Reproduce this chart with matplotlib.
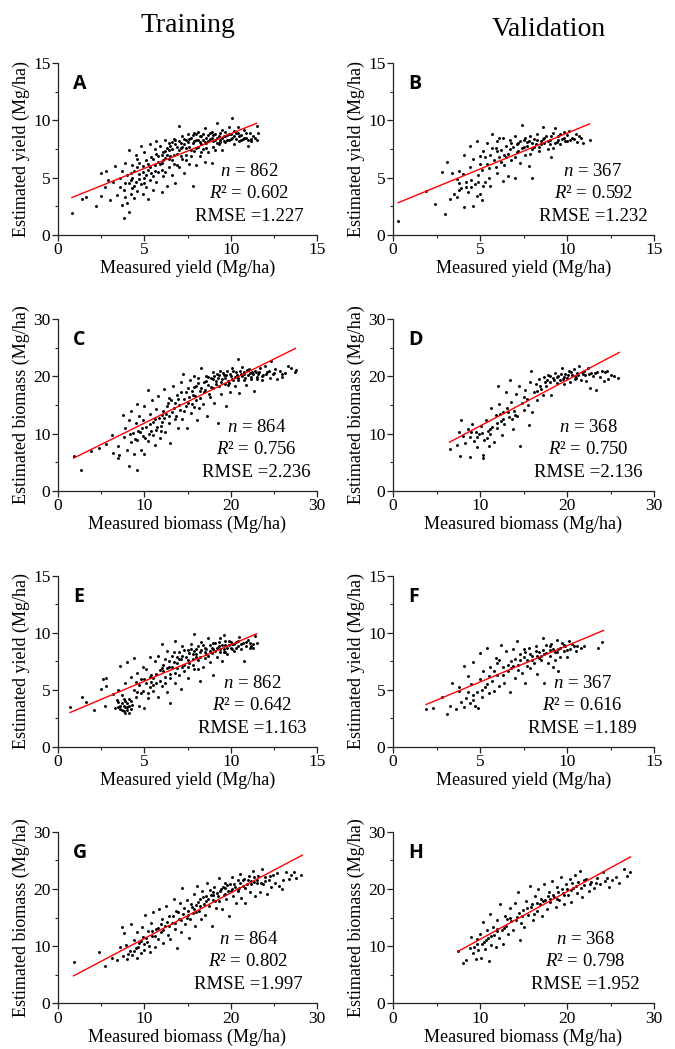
import numpy as np
import matplotlib
matplotlib.use("Agg")
import matplotlib.pyplot as plt
from matplotlib.ticker import MultipleLocator

plt.rcParams['font.family'] = ['Liberation Serif', 'DejaVu Serif']
plt.rcParams['mathtext.fontset'] = 'custom'
plt.rcParams['mathtext.it'] = 'Liberation Serif:italic'
plt.rcParams['mathtext.rm'] = 'Liberation Serif'

# ---------------- data ----------------
col_titles = ["Training", "Validation"]
panel_letters = ["A", "B", "C", "D", "E", "F", "G", "H"]
n_values = [862, 367, 864, 368, 862, 367, 864, 368]
r2_values = ["0.602", "0.592", "0.756", "0.750", "0.642", "0.616", "0.802", "0.798"]
rmse_values = ["1.227", "1.232", "2.236", "2.136", "1.163", "1.189", "1.997", "1.952"]
kinds = ["yield", "yield", "biomass", "biomass", "yield", "yield", "biomass", "biomass"]

# fitted red lines: (x0, x1), (y0, y1)
fit_x = [(0.8, 11.5), (0.3, 11.3), (1.8, 27.5), (6.5, 26.0),
         (0.7, 11.5), (1.9, 12.1), (1.8, 28.3), (7.5, 27.3)]
fit_y = [(3.25, 9.75), (2.8, 9.7), (5.7, 24.9), (8.5, 24.2),
         (3.0, 9.9), (3.7, 10.2), (4.8, 25.9), (9.1, 25.6)]

pts_A = [(0.8,1.9),(1.4,3.1),(1.6,3.3),(2.2,2.5),(2.5,5.4),(2.5,3.4),(2.7,4.2),(2.8,5.6),(2.9,4.8),(3.0,3.0),(3.2,4.6),(3.3,6.0),(3.4,3.5),
(3.6,5.0),(3.6,4.2),(3.7,2.6),(3.7,5.6),(3.8,1.5),(3.8,3.9),(3.9,4.5),(3.9,6.3),(4.0,2.8),(4.0,5.2),(4.1,2.0),(4.1,7.4),(4.2,3.6),(4.2,4.8),(4.3,6.1),(4.3,4.1),(4.4,5.6),(4.4,3.2),(4.5,7.0),(4.5,4.6),
(4.6,6.6),(4.6,3.8),(4.7,5.3),(4.8,7.8),(4.8,4.4),(4.9,6.0),(4.9,3.6),(5.0,5.0),(5.0,7.2),(5.1,4.2),(5.1,6.5),(5.2,3.1),(5.2,5.7),(5.3,7.9),(5.3,4.8),(5.4,6.8),(5.4,5.4),(5.5,3.9),
(5.6,7.5),(5.6,6.1),(5.7,4.6),(5.7,8.2),(5.8,5.5),(5.8,6.9),(5.9,7.8),(6.0,3.7),(6.0,6.3),(6.1,7.2),(6.1,5.1),(6.2,8.3),(6.2,6.7),(6.3,4.3),(6.3,7.6),(6.4,5.9),(6.4,8.0),(6.5,6.9),
(6.6,7.5),(6.6,5.2),(6.7,8.4),(6.7,6.2),(6.8,7.9),(6.8,4.5),(6.9,7.1),(7.0,9.5),(7.0,8.2),(7.0,5.9),(7.1,7.6),(7.2,6.6),(7.2,8.6),(7.3,7.9),(7.3,5.4),(7.4,8.3),(7.4,7.0),(7.5,8.8),
(7.6,7.7),(7.6,6.2),(7.7,8.5),(7.8,8.0),(7.8,4.3),(7.9,7.3),(7.9,8.9),(8.0,6.1),(8.0,8.3),(8.1,7.7),(8.1,9.0),(8.2,8.1),(8.2,6.9),(8.3,8.6),(8.4,7.5),(8.4,8.3),(8.5,9.3),(8.5,6.4),
(8.6,8.0),(8.7,8.7),(8.7,7.2),(8.8,8.4),(8.9,9.0),(8.9,6.3),(9.0,8.2),(9.0,7.7),(9.1,8.8),(9.2,9.8),(9.2,8.5),(9.3,7.9),(9.4,8.9),(9.4,8.3),(9.5,9.2),(9.5,7.4),
(9.6,8.6),(9.7,9.0),(9.7,8.1),(9.8,8.7),(9.9,9.4),(9.9,8.3),(10.0,8.8),(10.1,10.2),(10.1,8.5),(10.2,7.9),(10.2,9.1),(10.3,8.4),(10.4,8.9),(10.4,9.4),(10.5,8.2),
(10.6,8.7),(10.7,8.4),(10.8,9.2),(10.9,8.5),(11.0,8.3),(11.1,8.9),(11.2,8.4),(11.3,8.6),(11.5,9.5),(11.5,8.3),(11.6,8.9),(11.0,7.8),
(5.5,6.6),(5.9,6.2),(6.0,7.0),(6.2,7.3),(6.4,7.4),(6.5,7.8),(6.6,8.1),(6.7,7.0),(6.8,8.3),(6.9,7.7),(7.0,7.4),(7.1,8.0),(7.2,7.7),(7.3,8.4),(7.4,7.6),(7.5,8.1),(7.6,8.4),(7.7,7.4),(7.8,8.7),(7.9,8.2),
(8.0,7.6),(8.0,8.8),(8.1,8.3),(8.2,8.6),(8.3,7.9),(8.4,8.8),(8.5,8.1),(8.6,8.5),(8.7,8.2),(8.8,8.9),(8.9,8.5),(9.0,8.7),(9.1,8.3),(9.2,8.0),(9.3,8.6),(9.4,8.1),(9.5,8.5),(9.6,8.2),(9.7,8.6),(9.8,8.3),
(9.9,8.8),(10.0,8.4),(10.2,8.6),(10.3,8.9),(10.5,8.6),(10.6,8.3),(10.8,8.5),(10.9,8.9),(11.2,8.2),(11.4,8.5),
(4.2,5.4),(4.4,4.3),(4.6,5.9),(4.7,4.9),(4.9,5.5),(5.0,4.5),(5.2,6.2),(5.3,5.9),(5.5,5.1),(5.6,5.6),(5.8,6.4),(6.0,5.7),(6.2,5.5),(6.4,6.6),(6.6,6.5),(6.9,6.1),(7.1,6.9),(7.4,6.5),(7.7,6.9),(8.3,7.2),
(8.6,7.6),(9.1,7.4),(3.9,3.3),(4.1,4.5),(4.3,5.0),(4.7,6.3),(5.1,5.2),(5.7,7.1),(6.1,6.5),(6.3,7.0)]

pts_B = [(0.3,1.2),(1.9,3.8),(2.4,2.7),(2.8,5.5),(3.0,1.8),(3.1,6.4),(3.3,3.1),(3.4,5.4),(3.5,3.6),(3.7,4.9),(3.7,3.3),(3.8,4.5),(3.8,5.6),(3.9,4.1),(4.1,2.4),(4.1,7.0),(4.2,4.2),(4.3,3.7),(4.4,5.9),(4.4,7.8),
(4.5,4.8),(4.6,2.5),(4.6,6.6),(4.7,4.4),(4.8,3.4),(4.8,8.2),(4.9,5.2),(5.0,3.6),(5.0,6.9),(5.1,3.0),(5.1,5.7),(5.2,7.3),(5.3,4.6),(5.4,8.0),(5.4,6.2),(5.5,5.0),(5.6,7.0),(5.6,4.3),(5.7,8.8),(5.8,6.5),
(5.9,7.6),(6.0,5.4),(6.0,8.2),(6.1,6.8),(6.2,7.4),(6.3,4.7),(6.3,8.5),(6.4,6.1),(6.5,7.8),(6.6,5.1),(6.6,7.1),(6.7,8.3),(6.8,6.5),(6.9,7.7),(7.0,5.0),(7.0,8.6),(7.1,7.2),(7.2,8.0),(7.3,6.3),(7.4,9.6),
(7.4,7.6),(7.5,8.3),(7.6,7.0),(7.7,8.1),(7.8,6.0),(7.9,8.6),(8.0,5.0),(8.0,7.5),(8.1,8.4),(8.2,7.9),(8.3,8.8),(8.4,7.3),(8.5,8.2),(8.6,9.4),(8.7,8.0),(8.8,8.6),(8.9,7.5),(9.0,8.3),(9.1,6.8),(9.2,8.9),
(9.3,9.3),(9.4,8.1),(9.5,8.6),(9.6,7.9),(9.7,8.4),(9.8,9.0),(9.9,8.2),(10.0,8.7),(10.1,9.1),(10.2,8.3),(10.3,8.5),(10.5,8.8),(10.6,8.1),(10.8,8.5),(10.9,8.0),(11.3,8.3),(7.7,7.8),(8.6,8.4),(9.0,7.9),(6.4,7.0),
(5.3,6.8),(6.8,8.0),(7.1,7.9),(7.3,8.2),(7.5,7.7),(7.6,8.5),(7.8,8.2),(8.0,8.0),(8.1,7.7),(8.3,8.3),(8.5,7.9),(8.7,8.5),(8.9,8.2),(9.1,8.6),(9.3,8.0),(9.5,8.3),(9.6,8.8),(9.8,8.5),(10.0,8.2),(10.4,8.4),
(10.7,8.6),(6.0,7.3),(6.2,6.4),(6.5,6.8),(5.9,5.9),(5.7,7.6),(4.2,4.6),(4.5,4.2),(4.9,4.6),(5.2,4.3),(5.5,5.8),(6.7,7.5),(7.2,7.3),(7.9,7.1),(8.4,7.7),(9.2,7.6),(6.1,8.5),(5.0,6.2),(4.0,5.3),(3.8,3.9),(7.0,6.8)]

pts_C = [(1.8,6.0),(2.7,3.7),(3.8,6.9),(4.8,7.4),(5.6,8.1),(6.3,9.8),(6.4,6.6),(6.9,5.7),(7.0,7.9),(7.1,6.2),(7.5,13.3),(7.6,9.4),(7.8,11.0),(8.0,7.1),(8.2,4.4),(8.2,12.3),(8.4,8.6),(8.5,14.0),(8.7,10.1),(8.8,6.4),
(9.0,11.8),(9.1,15.1),(9.1,3.6),(9.2,8.9),(9.4,13.0),(9.5,10.3),(9.6,7.2),(9.8,12.3),(9.9,9.5),(10.0,14.8),(10.0,6.5),(10.2,11.2),(10.4,17.6),(10.4,8.7),(10.6,13.5),(10.8,10.4),(10.9,15.9),(11.0,12.0),(11.2,8.0),(11.3,14.3),
(11.5,11.1),(11.6,16.6),(11.8,9.3),(12.0,13.3),(12.1,12.1),(12.3,17.8),(12.4,10.2),(12.6,14.8),(12.8,11.8),(12.9,16.3),(13.0,8.4),(13.2,13.7),(13.3,18.4),(13.5,12.5),(13.6,15.4),(13.8,16.8),(13.9,10.9),(14.1,14.2),(14.2,19.1),(14.4,12.6),
(14.5,20.4),(14.6,16.0),(14.8,14.8),(14.9,11.0),(15.0,17.9),(15.1,15.3),(15.3,19.4),(15.4,13.6),(15.6,16.7),(15.7,20.1),(15.8,14.6),(16.0,18.3),(16.1,12.4),(16.2,19.8),(16.4,16.2),(16.5,17.4),(16.6,21.4),(16.8,15.2),(16.9,19.0),(17.0,17.6),
(17.2,20.0),(17.3,13.0),(17.4,18.5),(17.6,16.4),(17.7,19.7),(17.9,20.8),(18.0,17.9),(18.1,15.3),(18.3,19.2),(18.4,20.5),(18.5,11.9),(18.6,18.3),(18.8,21.0),(18.9,16.9),(19.0,19.6),(19.2,20.3),(19.3,18.6),(19.5,14.9),(19.6,20.9),(19.7,19.2),
(19.9,17.3),(20.0,20.1),(20.2,21.4),(20.3,19.4),(20.5,18.3),(20.6,20.8),(20.8,19.8),(20.9,23.0),(21.0,17.1),(21.2,20.4),(21.3,21.7),(21.5,19.3),(21.6,20.8),(21.8,18.5),(22.0,20.2),(22.1,21.3),(22.3,19.6),(22.5,20.7),(22.7,17.5),(22.8,21.0),
(23.0,19.9),(23.2,20.5),(23.4,21.4),(23.6,19.4),(23.8,20.2),(24.0,21.9),(24.2,20.7),(24.5,19.8),(24.7,22.7),(24.9,20.4),(25.1,21.3),(25.4,19.6),(25.7,20.9),(26.0,19.9),(26.3,20.6),(26.6,21.9),(27.0,21.4),(27.4,20.7),(27.6,21.1),(17.5,17.0),
(19.8,18.9),(16.3,14.5),
(15.5,17.5),(15.9,16.5),(16.2,18.8),(16.6,18.0),(16.9,17.3),(17.1,19.2),(17.4,19.9),(17.7,18.1),(17.9,19.5),(18.1,20.1),(18.3,18.6),(18.5,19.7),(18.7,20.3),(18.9,19.1),(19.1,20.6),(19.3,19.8),(19.5,20.2),(19.7,18.5),(19.9,20.5),(20.1,19.6),
(20.3,20.9),(20.5,19.9),(20.7,20.3),(20.9,19.3),(21.1,21.0),(21.3,20.0),(21.5,20.5),(21.7,19.7),(21.9,21.1),(22.2,20.6),(22.4,19.9),(22.6,20.4),(22.9,20.8),(23.1,19.5),(23.3,20.7),(23.6,20.1),(24.1,20.4),(24.4,21.0),(25.0,20.6),(25.9,20.4),
(10.5,10.0),(10.7,11.6),(11.0,9.7),(11.2,12.6),(11.4,10.6),(11.7,12.8),(11.9,11.4),(12.2,14.0),(12.3,12.7),(12.5,13.4),(12.7,15.3),(12.9,13.0),(13.1,15.8),(13.4,14.4),(13.7,13.1),(13.9,16.1),(14.0,15.0),(14.3,17.2),(14.6,13.9),(14.8,17.3),
(15.2,16.4),(15.5,15.1),(15.7,18.2),(16.0,15.8),(9.3,10.5),(9.7,11.0),(8.9,9.0),(8.3,10.0),(10.1,9.2),(11.9,10.4)]

pts_D = [(6.5,7.3),(7.3,8.0),(7.6,10.3),(7.7,6.1),(7.8,12.4),(8.0,9.6),(8.3,8.4),(8.6,10.8),(8.8,5.9),(8.9,9.4),(9.1,11.6),(9.3,8.7),(9.5,10.2),(9.7,7.6),(9.9,9.9),(10.1,11.4),(10.3,5.8),(10.4,6.3),(10.5,8.8),(10.7,12.3),
(10.9,10.5),(11.0,7.8),(11.1,9.9),(11.3,14.5),(11.4,11.1),(11.6,8.6),(11.8,13.3),(12.0,10.9),(12.1,18.3),(12.2,15.2),(12.4,12.2),(12.5,9.8),(12.7,13.8),(12.8,11.6),(13.0,17.2),(13.1,14.4),(13.3,12.9),(13.4,19.3),(13.6,15.6),(13.8,10.8),
(13.9,14.0),(14.1,16.9),(14.3,13.1),(14.5,18.3),(14.6,7.9),(14.8,15.4),(15.0,14.1),(15.2,17.7),(15.4,16.1),(15.6,11.5),(15.8,19.0),(15.9,20.9),(16.0,13.8),(16.2,17.2),(16.4,18.6),(16.6,15.9),(16.8,19.6),(17.0,17.8),(17.2,16.7),(17.4,19.9),
(17.6,18.4),(17.8,20.3),(18.0,19.1),(18.2,16.8),(18.4,19.8),(18.6,20.6),(18.8,18.9),(19.0,20.1),(19.2,19.3),(19.4,21.5),(19.6,18.6),(19.8,20.4),(20.0,19.7),(20.2,20.9),(20.4,19.0),(20.6,20.3),(20.8,21.3),(21.0,19.8),(21.2,20.6),(21.4,21.8),
(21.6,19.4),(21.8,20.4),(22.0,20.9),(22.2,19.2),(22.4,21.5),(22.6,18.0),(22.8,20.6),(23.0,20.0),(23.3,17.6),(23.5,20.7),(23.8,19.9),(24.0,21.0),(24.2,19.2),(24.4,20.8),(24.7,19.6),(25.0,20.3),(25.4,20.0),(25.9,19.7),(17.7,19.4),(19.5,19.6),
(20.9,20.1),
(17.5,19.0),(18.1,20.0),(18.5,19.3),(18.9,19.9),(19.3,20.4),(19.7,19.9),(20.1,20.3),(20.5,20.7),(20.9,19.5),(21.3,20.3),(21.7,20.8),(22.1,20.2),(22.5,20.4),(23.2,20.6),(24.6,20.9),(16.5,17.4),(16.9,18.4),(15.5,15.0),(14.0,13.2),(13.2,13.8),
(12.6,12.6),(11.9,11.9),(11.2,10.8),(10.2,10.1),(9.6,9.4),(9.0,10.2),(10.8,9.3),(12.3,13.4),(13.7,12.5),(15.1,16.4)]

pts_E = [(0.7,3.5),(1.4,4.4),(1.6,3.9),(2.1,3.2),(2.5,5.1),(2.6,5.9),(2.7,3.6),(2.8,5.3),(2.8,6.0),(3.2,4.6),(3.3,3.4),(3.4,4.1),(3.5,3.9),(3.5,5.0),(3.6,3.3),(3.6,7.1),(3.7,3.8),(3.7,4.5),(3.8,3.1),(3.8,3.6),
(3.9,4.0),(3.9,5.6),(4.0,3.2),(4.0,3.5),(4.0,7.4),(4.1,4.2),(4.1,3.0),(4.2,6.1),(4.3,3.7),(4.4,5.0),(4.4,7.8),(4.5,4.4),(4.6,6.5),(4.7,3.6),(4.7,5.4),(4.8,4.7),(4.9,7.0),(5.0,5.9),(5.0,3.4),(5.1,6.8),
(5.2,4.3),(5.3,7.9),(5.3,5.2),(5.4,6.3),(5.5,4.9),(5.6,7.5),(5.7,5.6),(5.8,8.0),(5.8,4.4),(5.9,6.7),(6.0,9.0),(6.0,5.3),(6.1,7.2),(6.2,6.1),(6.3,8.4),(6.3,4.8),(6.4,7.0),(6.5,3.8),(6.5,6.4),(6.6,8.0),
(6.7,7.4),(6.8,5.6),(6.8,9.3),(6.9,6.9),(7.0,8.3),(7.1,7.7),(7.1,5.1),(7.2,8.8),(7.3,6.6),(7.4,7.9),(7.5,8.5),(7.5,6.0),(7.6,7.3),(7.7,9.0),(7.8,8.1),(7.9,9.9),(7.9,6.8),(8.0,8.6),(8.1,7.6),(8.2,5.8),
(8.2,8.3),(8.3,9.2),(8.4,7.0),(8.5,8.7),(8.5,7.8),(8.6,8.1),(8.7,9.5),(8.8,7.4),(8.8,8.9),(8.9,8.2),(9.0,6.3),(9.0,8.6),(9.1,9.1),(9.2,7.9),(9.3,8.8),(9.4,8.3),(9.4,9.5),(9.5,7.5),(9.6,9.8),(9.6,8.6),
(9.7,8.9),(9.8,8.1),(9.9,9.3),(10.0,8.7),(10.1,9.0),(10.2,8.4),(10.3,9.2),(10.4,8.8),(10.5,9.6),(10.6,8.6),(10.7,9.1),(10.8,7.5),(10.9,8.8),(11.0,9.4),(11.1,8.7),(11.3,9.0),(11.4,9.7),(11.5,9.1),(11.2,8.8),(6.2,7.7),
(7.3,7.2),(8.0,7.9),(5.5,6.0),(4.8,5.9),(9.7,8.3),(6.9,7.9),
(3.6,3.6),(3.7,3.2),(3.8,4.2),(3.9,3.5),(4.0,3.8),(4.1,3.6),(4.2,3.3),(3.5,3.5),(3.9,3.0),(4.2,4.0),
(6.1,6.6),(6.4,7.5),(6.6,7.0),(6.7,8.3),(6.9,7.3),(7.0,7.7),(7.2,8.0),(7.3,8.5),(7.5,7.6),(7.6,8.2),(7.7,8.6),(7.8,7.7),(7.9,8.4),(8.0,8.1),(8.1,8.8),(8.2,7.9),(8.3,8.5),(8.4,8.9),(8.5,8.3),(8.6,8.6),
(8.7,8.0),(8.8,8.4),(8.9,8.7),(9.0,9.1),(9.1,8.4),(9.2,8.7),(9.3,9.2),(9.4,8.6),(9.5,8.9),(9.6,8.3),(9.7,9.3),(9.8,8.7),(9.9,8.9),(10.0,9.2),(10.1,8.6),(10.2,9.0),(10.3,8.7),(10.4,9.3),(10.6,9.0),(10.9,9.2),
(11.1,9.1),(11.3,8.7),
(5.1,5.6),(5.3,6.1),(5.5,5.4),(5.7,6.4),(5.9,5.8),(6.0,6.9),(6.2,5.6),(6.5,6.0),(6.8,6.5),(7.0,6.3),(7.2,7.0),(7.5,7.0),(7.8,7.2),(8.1,6.8),(4.5,5.7),(4.9,4.9),(4.6,4.8),(5.2,4.7),(5.4,5.7),(6.3,6.9)]

pts_F = [(1.9,3.3),(2.3,3.4),(2.8,4.4),(3.1,2.9),(3.3,3.6),(3.4,5.6),(3.6,3.3),(3.8,4.9),(3.8,5.2),(3.9,3.9),(4.1,3.5),(4.1,7.1),(4.2,4.3),(4.3,6.2),(4.4,3.8),(4.5,5.5),(4.6,4.1),(4.6,7.4),(4.7,3.6),(4.8,4.8),
(4.9,3.4),(5.0,8.2),(5.0,5.9),(5.1,4.4),(5.2,6.6),(5.3,5.2),(5.4,8.7),(5.5,4.7),(5.6,7.0),(5.7,5.8),(5.8,4.9),(5.9,7.8),(6.0,6.3),(6.1,5.3),(6.2,8.9),(6.3,7.0),(6.4,5.6),(6.5,8.4),(6.6,6.6),(6.7,4.8),
(6.8,7.5),(6.9,8.6),(7.0,6.0),(7.1,9.3),(7.2,7.2),(7.3,8.1),(7.4,6.5),(7.5,8.6),(7.6,5.6),(7.7,7.6),(7.8,8.7),(7.9,6.9),(8.0,8.0),(8.1,7.3),(8.2,8.8),(8.3,6.4),(8.4,8.3),(8.5,7.6),(8.6,9.5),(8.7,5.6),
(8.7,8.1),(8.8,8.9),(8.9,7.3),(9.0,8.5),(9.1,9.0),(9.2,7.0),(9.3,8.3),(9.4,9.4),(9.5,6.6),(9.5,8.6),(9.6,7.9),(9.7,9.1),(9.8,8.4),(9.9,8.8),(10.0,7.9),(10.1,9.3),(10.2,8.6),(10.3,9.0),(10.5,8.4),(10.6,8.8),
(10.8,8.7),(11.0,8.8),(11.8,8.7),(12.0,9.2),(7.5,7.9),(6.0,7.3),(8.3,8.0),(5.5,6.2),(9.0,8.0),
(7.0,7.7),(7.3,7.6),(7.6,8.3),(7.9,8.1),(8.0,7.6),(8.2,8.4),(8.4,7.8),(8.6,8.5),(8.8,8.2),(9.0,8.8),(9.2,8.6),(9.4,8.3),(9.6,8.7),(9.8,8.9),(10.0,8.5),(10.4,8.8),(6.3,6.3),(6.6,7.2),(6.8,6.9),(7.2,6.7),
(5.8,6.6),(5.4,5.5),(5.1,5.0),(4.6,4.5),(4.3,4.8),(6.1,7.6),(6.9,7.1),(7.7,7.1),(8.5,8.0),(9.3,7.6)]

pts_G = [(1.8,7.3),(4.8,8.9),(5.5,6.6),(6.3,8.0),(6.8,7.5),(7.2,9.9),(7.4,13.4),(7.5,8.2),(7.7,12.3),(7.9,10.2),(8.0,7.8),(8.3,9.2),(8.5,13.9),(8.6,8.4),(8.8,11.0),(9.0,9.7),(9.1,12.4),(9.2,7.9),(9.4,10.6),(9.6,8.8),
(9.7,13.3),(9.9,11.6),(10.0,9.3),(10.1,15.4),(10.3,10.8),(10.4,12.6),(10.6,8.9),(10.8,14.1),(10.9,11.7),(11.0,15.9),(11.2,9.9),(11.4,13.0),(11.6,11.2),(11.7,16.4),(11.9,12.5),(12.0,14.7),(12.2,10.5),(12.4,13.6),(12.5,17.0),(12.7,12.0),
(12.9,15.3),(13.0,11.3),(13.2,14.1),(13.4,18.3),(13.5,13.0),(13.7,16.1),(13.8,9.6),(14.0,14.8),(14.1,17.5),(14.3,12.5),(14.4,20.2),(14.5,15.6),(14.7,13.9),(14.9,18.0),(15.0,16.2),(15.2,11.5),(15.3,14.7),(15.4,17.3),(15.6,15.8),(15.8,19.1),
(15.9,13.6),(16.0,17.2),(16.1,20.5),(16.3,16.1),(16.4,18.2),(16.6,14.8),(16.7,19.6),(16.9,17.4),(17.0,15.5),(17.2,18.8),(17.3,21.1),(17.5,17.0),(17.6,19.8),(17.8,13.5),(18.0,18.1),(18.1,20.4),(18.3,16.6),(18.4,19.3),(18.6,21.9),(18.7,17.8),
(18.9,20.0),(19.0,16.5),(19.2,19.0),(19.3,21.0),(19.5,18.2),(19.6,20.6),(19.8,15.3),(20.0,19.6),(20.1,22.1),(20.3,18.8),(20.4,20.9),(20.6,17.6),(20.8,21.5),(20.9,19.7),(21.1,22.6),(21.2,18.4),(21.4,20.5),(21.6,21.8),(21.7,17.5),(21.9,20.9),
(22.1,22.3),(22.2,19.5),(22.4,21.4),(22.6,23.1),(22.8,18.8),(23.0,21.0),(23.2,22.2),(23.4,19.5),(23.6,23.4),(23.8,20.8),(24.0,22.0),(24.2,19.1),(24.4,21.5),(24.7,20.3),(24.9,22.4),(25.1,21.0),(25.4,22.8),(25.6,20.5),(25.9,19.9),(26.1,21.6),
(26.4,22.9),(26.7,21.8),(27.0,22.5),(27.3,23.0),(27.6,21.9),(28.2,22.5),(19.4,20.2),(21.0,20.2),(17.9,19.0),(16.0,16.0),(22.7,21.2),
(15.1,15.5),(15.5,16.9),(15.8,16.4),(16.2,17.7),(16.5,17.0),(16.8,18.5),(17.1,17.8),(17.4,18.3),(17.7,18.9),(18.0,19.5),(18.2,17.9),(18.5,18.8),(18.8,19.6),(19.1,20.3),(19.4,19.1),(19.7,19.7),(19.9,20.8),(20.2,19.9),(20.5,20.4),(20.8,19.9),
(21.1,21.1),(21.4,21.6),(21.7,20.2),(22.0,21.6),(22.3,20.8),(22.7,22.0),(23.1,21.6),(23.5,21.1),(24.0,21.4),(24.5,22.3),
(10.2,11.4),(10.5,10.1),(10.9,12.6),(11.2,11.8),(11.6,13.2),(11.9,13.9),(12.2,12.8),(12.6,14.3),(12.9,13.6),(13.3,15.2),(13.6,14.1),(13.9,15.9),(14.2,14.6),(14.6,16.6),(14.9,15.0),(9.3,9.8),(9.6,10.9),(8.8,9.1),(8.1,8.7),(10.0,10.4)]

pts_H = [(7.5,9.1),(8.1,7.1),(8.4,7.6),(8.8,9.6),(9.0,11.6),(9.2,8.8),(9.5,7.7),(9.6,10.4),(9.8,9.3),(10.0,12.2),(10.1,8.0),(10.3,14.2),(10.5,10.8),(10.6,9.5),(10.8,12.8),(10.9,11.4),(11.0,7.4),(11.2,15.6),(11.3,10.2),(11.5,13.4),
(11.6,12.0),(11.8,9.9),(12.0,14.6),(12.2,11.5),(12.3,17.3),(12.5,12.8),(12.7,10.4),(12.9,15.3),(13.0,13.6),(13.2,12.2),(13.4,16.7),(13.6,14.4),(13.8,12.9),(14.0,17.5),(14.2,15.1),(14.4,19.4),(14.6,11.0),(14.7,14.0),(14.9,16.3),(15.1,13.3),
(15.3,17.8),(15.5,15.5),(15.7,20.5),(15.9,16.9),(16.1,14.6),(16.3,18.8),(16.5,16.1),(16.7,19.9),(16.9,17.4),(17.1,15.3),(17.3,20.8),(17.5,18.1),(17.7,16.5),(17.9,19.4),(18.1,17.7),(18.3,21.3),(18.5,18.6),(18.7,16.8),(18.9,20.3),(19.1,18.0),
(19.3,22.1),(19.5,19.3),(19.7,17.3),(19.9,20.9),(20.1,18.9),(20.3,21.8),(20.5,17.7),(20.7,20.2),(20.9,22.4),(21.1,19.3),(21.3,21.2),(21.5,23.1),(21.7,18.5),(21.9,20.6),(22.2,21.8),(22.5,19.6),(22.8,21.2),(23.1,20.1),(23.5,21.9),(23.8,20.9),
(24.1,23.0),(24.4,21.3),(24.8,20.4),(25.2,21.6),(25.6,22.0),(26.0,21.1),(26.5,23.5),(26.9,22.3),(27.2,22.9),(17.0,18.3),(19.0,19.5),(20.5,19.8),(14.5,15.8),(12.0,12.6),
(16.0,17.3),(16.6,17.5),(17.2,17.9),(17.8,18.7),(18.4,19.0),(18.8,18.2),(19.4,20.0),(20.0,19.9),(20.6,21.0),(21.0,20.5),(21.6,20.1),(22.0,21.5),(22.6,20.8),(15.4,16.6),(14.8,15.2),(14.1,14.5),(13.5,15.0),(12.8,13.2),(11.9,13.0),(11.3,11.8),
(10.7,11.0),(10.2,10.3),(9.7,11.3),(9.3,9.8),(13.1,14.8),(16.2,15.6),(18.0,18.3),(19.7,19.0),(23.3,21.1),(24.6,21.9)]

all_pts = [pts_A, pts_B, pts_C, pts_D, pts_E, pts_F, pts_G, pts_H]

# ---------------- layout (pixels) ----------------
W, H = 675, 1049
col_left = [58, 393]
col_width = [259, 261]
row_top = [63.3, 319.3, 575.7, 831.7]
row_bottom = [234.7, 490.7, 746.7, 1003.3]
annot_x = [0.74, 0.766, 0.767, 0.747, 0.749, 0.725, 0.734, 0.736]
annot_y = [0.37, 0.243, 0.108]

fig = plt.figure(figsize=(W / 100, H / 100), dpi=100)

for i in range(8):
    r, c = divmod(i, 2)
    left = col_left[c] / W
    bottom = 1 - row_bottom[r] / H
    height = (row_bottom[r] - row_top[r]) / H
    ax = fig.add_axes([left, bottom, col_width[c] / W, height])
    pts = np.array(all_pts[i])
    ax.scatter(pts[:, 0], pts[:, 1], s=4.5, c='black', linewidths=0, zorder=2)
    ax.plot(fit_x[i], fit_y[i], color='red', lw=1.0, zorder=3)

    if kinds[i] == "yield":
        lim, major, minor = 15, 5, 2.5
        xl, yl = "Measured yield (Mg/ha)", "Estimated yield (Mg/ha)"
    else:
        lim, major, minor = 30, 10, 5
        xl, yl = "Measured biomass (Mg/ha)", "Estimated biomass (Mg/ha)"
    ax.set_xlim(0, lim)
    ax.set_ylim(0, lim)
    ax.xaxis.set_major_locator(MultipleLocator(major))
    ax.yaxis.set_major_locator(MultipleLocator(major))
    ax.xaxis.set_minor_locator(MultipleLocator(minor))
    ax.yaxis.set_minor_locator(MultipleLocator(minor))
    ax.spines['top'].set_visible(False)
    ax.spines['right'].set_visible(False)
    for s in ('left', 'bottom'):
        ax.spines[s].set_linewidth(0.9)
        ax.spines[s].set_color('#222222')
    ax.tick_params(which='major', direction='out', length=4, width=0.9,
                   labelsize=12.5, pad=1.5, color='#222222')
    ax.tick_params(which='minor', direction='out', length=2.5, width=0.8,
                   color='#222222')
    ax.set_xlabel(xl, fontsize=13, labelpad=1)
    ax.set_ylabel(yl, fontsize=13, labelpad=2)

    ax.text(0.057, 0.935, panel_letters[i], transform=ax.transAxes,
            ha='left', va='top', fontsize=14, fontweight='bold',
            family=['Open Sans', 'DejaVu Sans'])
    lines = [f"$n$ = {n_values[i]}", f"$R$² = {r2_values[i]}",
             f"RMSE ={rmse_values[i]}"]
    for txt, yy in zip(lines, annot_y):
        ax.text(annot_x[i], yy, txt, transform=ax.transAxes, ha='center',
                va='center', fontsize=13.5)

fig.text(188 / W, 1 - 25 / H, col_titles[0], ha='center', va='center', fontsize=20)
fig.text(549 / W, 1 - 30 / H, col_titles[1], ha='center', va='center', fontsize=20)

fig.savefig("out.png", dpi=100)
